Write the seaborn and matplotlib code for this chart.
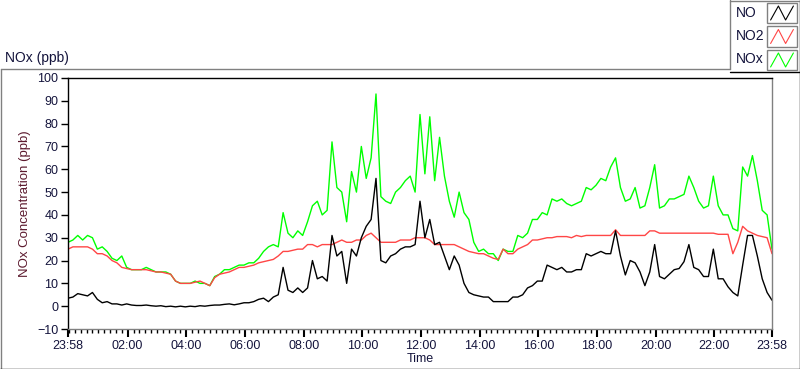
import numpy as np
import pandas as pd
import matplotlib
matplotlib.use('Agg')
import matplotlib.pyplot as plt
import matplotlib.dates as mdates
from matplotlib.lines import Line2D
from matplotlib.patches import Rectangle
from matplotlib.legend_handler import HandlerBase
import seaborn as sns

# 10-minute readings from 23:58 to 23:58 next day
start = pd.Timestamp('2014-03-10 23:58')
times = pd.date_range(start, periods=145, freq='10min')

nox = [28, 29, 31, 29, 31, 30,
       25, 26, 24, 21, 20, 22,
       17, 16, 16, 16, 17, 16,
       15, 15, 15, 14, 11, 10,
       10, 10, 11, 10, 10, 9,
       13, 14, 16, 16, 17, 18,
       18, 19, 19, 21, 24, 26,
       27, 26, 41, 32, 30, 33,
       31, 37, 44, 46, 40, 42,
       72, 52, 50, 37, 59, 50,
       70, 56, 65, 93, 48, 46,
       45, 50, 52, 55, 57, 50,
       84, 58, 83, 55, 74, 57,
       46, 39, 50, 41, 38, 28,
       24, 25, 23, 23, 20, 25,
       24, 24, 31, 30, 32, 38,
       38, 41, 40, 47, 46, 47,
       45, 44, 45, 46, 52, 51,
       53, 56, 55, 61, 65, 52,
       46, 47, 52, 43, 44, 52,
       62, 43, 44, 47, 47, 48,
       49, 57, 52, 46, 43, 44,
       57, 44, 40, 40, 34, 33,
       61, 57, 66, 55, 42, 40,
       25]

no2 = [25, 26, 26, 26, 26, 25,
       23, 23, 22, 20, 19, 17,
       16.5, 16, 16, 16, 16, 15.5,
       15, 15, 14.5, 14, 11, 10,
       10, 10, 10.5, 11, 10, 9,
       12.5, 14, 14.5, 15, 16, 17,
       17, 17.5, 18, 19, 19.5, 20,
       20.5, 22, 24, 24, 24.5, 25,
       25, 27, 27, 26, 27, 27,
       27, 28, 29, 28, 28, 29,
       29, 31, 32, 30, 28, 28,
       28, 28, 29, 29, 29, 30,
       30, 30, 29, 27, 27, 27,
       27, 27, 26, 25, 24, 23.5,
       23, 23, 22, 21, 20.5, 25,
       23, 23, 25, 26, 27, 29,
       29, 29.5, 30, 30, 30.5, 30.5,
       30.5, 30, 31, 30.5, 31, 31,
       31, 31, 31, 31, 33.5, 31,
       31, 31, 31, 31, 31, 33,
       33, 32, 32, 32, 32, 32,
       32, 32, 32, 32, 32, 32,
       32, 31.5, 31.5, 31.5, 23, 28,
       35, 33, 32, 31, 30.5, 30,
       23]

no = [3.5, 4, 5.5, 5, 4.5, 6,
      3, 1.5, 2, 1, 1, 0.5,
      1, 0.5, 0.3, 0.3, 0.5, 0.2,
      0, 0.2, -0.2, 0, -0.3, 0,
      -0.3, 0, -0.2, 0.2, 0, 0.3,
      0.5, 0.5, 0.8, 1, 0.6, 1,
      1.5, 1.5, 2, 3, 3.5, 2,
      4, 5, 17, 7, 6, 8,
      6, 8, 20, 12, 13, 11,
      31, 22, 24, 10, 25, 22,
      30, 35, 38, 56, 20, 19,
      22, 23, 25, 26, 26, 27,
      46, 30, 38, 27, 28, 22,
      16, 22, 18, 10, 6, 5,
      4.5, 4, 4, 2, 2, 2,
      2, 4, 4, 5, 8, 9,
      11, 11, 18, 17, 16, 17,
      15, 15, 16, 16, 23, 22,
      23, 24, 23, 23, 33, 22,
      13.7, 20, 19, 15, 9, 15,
      27, 13, 12, 14, 16, 16.5,
      19.5, 27, 17, 16, 13, 13,
      25, 12, 12, 8.5, 6, 4.5,
      18, 31, 31, 22, 12, 6,
      2.6]

series = ['NO', 'NO2', 'NOx']
colors = {'NO': '#000000', 'NO2': '#ff4646', 'NOx': '#00ff00'}

df = pd.DataFrame({
    'Time': list(times) * 3,
    'ppb': nox + no2 + no,
    'Series': ['NOx'] * 145 + ['NO2'] * 145 + ['NO'] * 145,
})

sns.set_style('white')
plt.rcParams['font.family'] = ['Liberation Sans', 'DejaVu Sans']

W, H = 800, 369
fig = plt.figure(figsize=(8, 3.69), dpi=100)
ax = fig.add_axes([68 / W, 1 - 329 / H, (772 - 68) / W, (329 - 78) / H])

sns.lineplot(data=df, x='Time', y='ppb', hue='Series',
             hue_order=['NOx', 'NO2', 'NO'], palette=colors,
             estimator=None, lw=1.0, legend=False, ax=ax)

end = times[-1]
major = [start] + list(pd.date_range('2014-03-11 02:00', '2014-03-11 22:00', freq='2h')) + [end]
ax.set_xlim(start, end)
ax.set_xticks(major)
ax.xaxis.set_major_formatter(mdates.DateFormatter('%H:%M'))
ax.xaxis.set_minor_locator(mdates.MinuteLocator(byminute=[0, 12, 24, 36, 48]))
ax.set_ylim(-10, 100)
ax.set_yticks(range(-10, 101, 10))

tick_col = '#14143c'
ax.tick_params(axis='x', which='major', direction='out', length=6, width=1.5,
               color='black', labelsize=9, labelcolor=tick_col, pad=2, bottom=True)
ax.tick_params(axis='x', which='minor', direction='out', length=3, width=1,
               color='black', bottom=True)
ax.tick_params(axis='y', direction='out', length=5, width=1,
               color='black', labelsize=9, labelcolor=tick_col, pad=2, left=True)

ax.spines['left'].set_color('black')
ax.spines['top'].set_color('black')
ax.spines['right'].set_color('#808080')
ax.spines['bottom'].set_color('#808080')
for s in ax.spines.values():
    s.set_linewidth(1)

ax.set_xlabel('Time', fontsize=9, color=tick_col, labelpad=1)
ax.set_ylabel('NOx Concentration (ppb)', fontsize=9.5, color='#5c1a2e', labelpad=4)
fig.text(5 / W, 1 - 58 / H, 'NOx (ppb)', fontsize=10, color=tick_col, va='center', ha='left')


# frame around the graph and the legend box
def fline(x0, y0, x1, y1, c):
    fig.add_artist(Line2D([x0 / W, x1 / W], [1 - y0 / H, 1 - y1 / H],
                          color=c, lw=1, transform=fig.transFigure))


fline(0.5, 69, 730, 69, '#808080')
fline(0.5, 69, 0.5, 369, '#808080')
fline(0, 368.5, 800, 368.5, 'black')
fline(799.5, 0, 799.5, 369, 'black')
fline(730, 0, 730, 69, '#808080')
fline(730, 72, 800, 72, 'black')
fline(730, 0.5, 800, 0.5, '#808080')


class ZigZag(HandlerBase):
    def create_artists(self, legend, orig, xd, yd, width, height, fontsize, trans):
        x0, y0 = -xd, -yd
        box = Rectangle((x0, y0), width, height, fill=False, ec='#808080', lw=1, transform=trans)
        fx = [0.12, 0.38, 0.62, 0.88]
        fy = [0.15, 0.85, 0.15, 0.85]
        ln = Line2D([x0 + f * width for f in fx], [y0 + f * height for f in fy],
                    color=orig.get_color(), lw=0.8, transform=trans)
        return [box, ln]


handles = [Line2D([], [], color=colors[s]) for s in series]
leg = fig.legend(handles, [''] * 3, handler_map={Line2D: ZigZag()},
                 loc='upper right', bbox_to_anchor=(797 / W, 1 - 3 / H),
                 frameon=False, fontsize=10,
                 handlelength=2.16, handleheight=1.84, labelspacing=0.25,
                 handletextpad=0, borderpad=0, borderaxespad=0)

# legend names, left aligned like the original panel
for name, yc in zip(series, [13, 36, 59]):
    fig.text(736 / W, 1 - yc / H, name, fontsize=10, color=tick_col, va='center', ha='left')

plt.savefig('out.png', dpi=100)
